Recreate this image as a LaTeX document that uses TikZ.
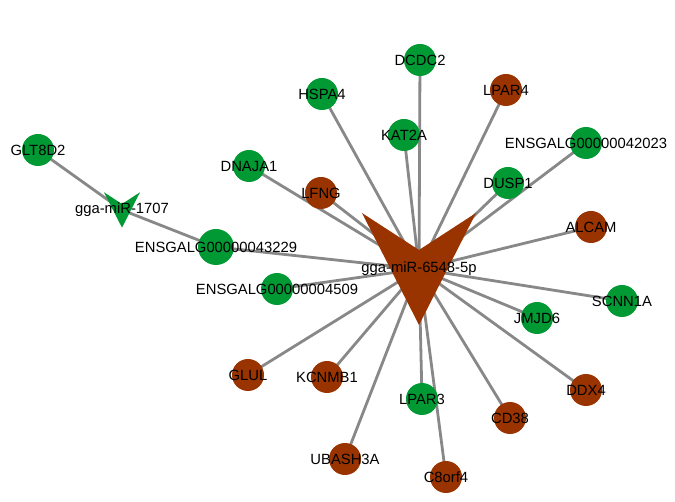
\documentclass[tikz,border=0pt]{standalone}
\usepackage{fontspec}
\setmainfont{Liberation Sans}
\pgfdeclarelayer{bg}
\pgfdeclarelayer{edges}
\pgfdeclarelayer{shapes}
\pgfsetlayers{bg,edges,shapes,main}
\definecolor{gnode}{HTML}{009933}
\definecolor{bnode}{HTML}{993300}
\definecolor{edgec}{HTML}{888888}
\tikzset{
  lbl/.style={inner sep=0pt, text=black, font=\fontsize{14.8}{16}\selectfont},
  gene/.style={circle, minimum size=32pt, inner sep=0pt},
  gup/.style={gene, fill=gnode, label={[lbl]center:#1}},
  gdown/.style={gene, fill=bnode, label={[lbl]center:#1}},
  mirlabel/.style={lbl},
  link/.style={draw=edgec, line width=2.8pt},
}
\begin{document}
\begin{tikzpicture}[x=1pt,y=-1pt]
\begin{pgfonlayer}{bg}
\useasboundingbox[fill=white] (0,0) rectangle (675,502);
\end{pgfonlayer}
% miRNA labels (hubs)
\node[mirlabel] (mA) at (419,269) {gga-miR-6548-5p};
\node[mirlabel] (mB) at (122,210) {gga-miR-1707};
% genes
\node[gup=DCDC2] (DCDC2) at (420,60) {};
\node[gup=HSPA4] (HSPA4) at (322,94) {};
\node[gdown=LPAR4] (LPAR4) at (506,90) {};
\node[gup=KAT2A] (KAT2A) at (404,135) {};
\node[gup=ENSGALG00000042023] (E42023) at (586,143) {};
\node[gup=DNAJA1] (DNAJA1) at (249,166) {};
\node[gdown=LFNG] (LFNG) at (321,193) {};
\node[gup=DUSP1] (DUSP1) at (508,183) {};
\node[gdown=ALCAM] (ALCAM) at (591,227) {};
\node[gup=ENSGALG00000043229, minimum size=36pt] (E43229) at (216,247) {};
\node[gup=ENSGALG00000004509] (E4509) at (277,289) {};
\node[gup=SCNN1A] (SCNN1A) at (622,301) {};
\node[gup=JMJD6] (JMJD6) at (537,318) {};
\node[gdown=GLUL] (GLUL) at (248,375) {};
\node[gdown=KCNMB1] (KCNMB1) at (327,377) {};
\node[gup=LPAR3] (LPAR3) at (422,399) {};
\node[gdown=CD38] (CD38) at (510,418) {};
\node[gdown=DDX4] (DDX4) at (586,390) {};
\node[gdown=UBASH3A] (UBASH3A) at (345,459) {};
\node[gdown=C8orf4] (C8orf4) at (446,477) {};
\node[gup=GLT8D2] (GLT8D2) at (38,150) {};
% V shapes
\begin{pgfonlayer}{shapes}
\fill[bnode, shift={(mA.center)}] (-57,-56) -- (0,-19) -- (57,-56) -- (0,56) -- cycle;
\fill[gnode, shift={(mB.center)}] (-18,-17.7) -- (0,-6) -- (18,-17.7) -- (0,17.7) -- cycle;
\end{pgfonlayer}
% edges
\begin{pgfonlayer}{edges}
\foreach \g in {DCDC2,HSPA4,LPAR4,KAT2A,E42023,DNAJA1,LFNG,DUSP1,ALCAM,E43229,E4509,SCNN1A,JMJD6,GLUL,KCNMB1,LPAR3,CD38,DDX4,UBASH3A,C8orf4}
  \draw[link] (\g.center) -- (mA.center);
\draw[link] (GLT8D2.center) -- (mB.center);
\draw[link] (mB.center) -- (E43229.center);
\end{pgfonlayer}
\end{tikzpicture}
\end{document}
